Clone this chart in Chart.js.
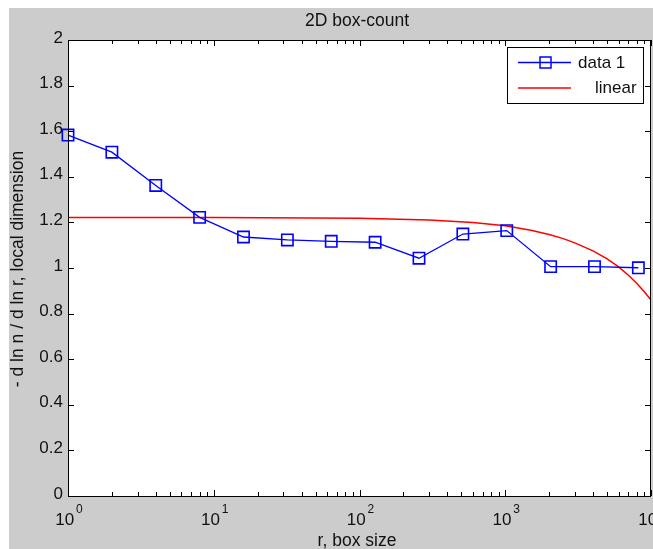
<!DOCTYPE html>
<html>
<head>
<meta charset="utf-8">
<title>2D box-count</title>
<script src="https://cdn.jsdelivr.net/npm/chart.js@4.4.0/dist/chart.umd.min.js"></script>
<style>
  body { margin: 0; background: #ffffff; }
  #wrap { width: 653px; height: 549px; }
</style>
</head>
<body>
<div id="wrap"><canvas id="myChart" width="653" height="549"></canvas></div>
<script>
  /////////////////////////////////////
 /*              DATA               */
/////////////////////////////////////

var boxSizes = [1, 2, 4, 8, 16, 32, 64, 128, 256, 512, 1024, 2048, 4096, 8192];
var localDim = [1.583, 1.508, 1.362, 1.222, 1.136, 1.123, 1.117, 1.113, 1.043, 1.149, 1.164, 1.006, 1.006, 1.001];

var fitX = [1, 10, 100, 300, 600, 1000, 1500, 2000, 2500, 3000, 4000, 5000, 6000, 7000, 8000, 9000, 10000];
var fitY = [1.222, 1.221, 1.218, 1.211, 1.200, 1.185, 1.166, 1.147, 1.129, 1.110, 1.075, 1.040, 1.005, 0.968, 0.932, 0.896, 0.860];

var yTicks = [0, 0.2, 0.4, 0.6, 0.8, 1, 1.2, 1.4, 1.6, 1.8, 2];
var yTickLabels = ['0', '0.2', '0.4', '0.6', '0.8', '1', '1.2', '1.4', '1.6', '1.8', '2'];
var xTicks = [1, 10, 100, 1000, 10000];
var xTickExps = ['0', '1', '2', '3', '4'];

var FONT = '"Liberation Sans", Arial, sans-serif';

  /////////////////////////////////////
 /*   MATLAB STYLE AXES + LEGEND    */
/////////////////////////////////////

var matlabAxes = {
  id: 'matlabAxes',
  beforeDraw: function(chart) {
    var ctx = chart.ctx;
    var a = chart.chartArea;
    ctx.save();
    ctx.fillStyle = '#ffffff';
    ctx.fillRect(0, 0, chart.width, chart.height);
    ctx.fillStyle = '#cccccc';
    ctx.fillRect(9, 8, chart.width - 9, chart.height - 8);
    ctx.fillStyle = '#ffffff';
    ctx.fillRect(a.left, a.top, a.right - a.left, a.bottom - a.top);
    ctx.restore();
  },
  afterDatasetsDraw: function(chart) {
    var ctx = chart.ctx;
    var a = chart.chartArea;
    var xs = chart.scales.x;
    var ys = chart.scales.y;
    var i, k, px, py;

    ctx.save();
    ctx.strokeStyle = '#000000';
    ctx.lineWidth = 1;

    // box
    ctx.strokeRect(Math.round(a.left) + 0.5, Math.round(a.top) + 0.5,
      Math.round(a.right - a.left) - 1, Math.round(a.bottom - a.top));

    // x ticks (major + minor), bottom and top
    ctx.beginPath();
    for (i = 0; i < xTicks.length; i++) {
      px = Math.round(xs.getPixelForValue(xTicks[i])) + 0.5;
      ctx.moveTo(px, a.bottom); ctx.lineTo(px, a.bottom - 6);
      ctx.moveTo(px, a.top); ctx.lineTo(px, a.top + 6);
      if (i < xTicks.length - 1) {
        for (k = 2; k <= 9; k++) {
          px = Math.round(xs.getPixelForValue(xTicks[i] * k)) + 0.5;
          ctx.moveTo(px, a.bottom); ctx.lineTo(px, a.bottom - 4);
          ctx.moveTo(px, a.top); ctx.lineTo(px, a.top + 4);
        }
      }
    }
    // y ticks, left and right
    for (i = 0; i < yTicks.length; i++) {
      py = Math.round(ys.getPixelForValue(yTicks[i])) + 0.5;
      ctx.moveTo(a.left, py); ctx.lineTo(a.left + 6, py);
      ctx.moveTo(a.right, py); ctx.lineTo(a.right - 6, py);
    }
    ctx.stroke();

    // y tick labels
    ctx.fillStyle = '#111111';
    ctx.font = '17px ' + FONT;
    ctx.textAlign = 'right';
    ctx.textBaseline = 'middle';
    for (i = 0; i < yTicks.length; i++) {
      py = ys.getPixelForValue(yTicks[i]);
      ctx.fillText(yTickLabels[i], a.left - 5, py - 2);
    }

    // x tick labels 10^n
    ctx.textAlign = 'left';
    ctx.textBaseline = 'alphabetic';
    for (i = 0; i < xTicks.length; i++) {
      px = xs.getPixelForValue(xTicks[i]);
      ctx.font = '17px ' + FONT;
      var wb = ctx.measureText('10').width;
      ctx.font = '12px ' + FONT;
      var we = ctx.measureText(xTickExps[i]).width;
      var x0 = px - (wb + 2 + we) / 2 + 1;
      ctx.font = '17px ' + FONT;
      ctx.fillText('10', x0, 525);
      ctx.font = '12px ' + FONT;
      ctx.fillText(xTickExps[i], x0 + wb + 2, 513);
    }

    // title and axis labels
    ctx.font = '17.5px ' + FONT;
    ctx.textAlign = 'center';
    ctx.fillText('2D box-count', 357, 26);
    ctx.fillText('r, box size', 357, 546);
    ctx.save();
    ctx.translate(23, 269);
    ctx.rotate(-Math.PI / 2);
    ctx.fillText('- d ln n / d ln r, local dimension', 0, 0);
    ctx.restore();

    // legend
    var d0 = chart.data.datasets[0];
    var d1 = chart.data.datasets[1];
    ctx.fillStyle = '#ffffff';
    ctx.fillRect(507, 47, 136, 56);
    ctx.strokeStyle = '#000000';
    ctx.lineWidth = 1;
    ctx.strokeRect(507.5, 47.5, 136, 56);

    ctx.strokeStyle = d0.borderColor;
    ctx.lineWidth = 1.5;
    ctx.beginPath();
    ctx.moveTo(518, 62.5); ctx.lineTo(571, 62.5);
    ctx.stroke();
    ctx.strokeRect(540, 57, 11, 11);

    ctx.strokeStyle = d1.borderColor;
    ctx.beginPath();
    ctx.moveTo(518, 88); ctx.lineTo(571, 88);
    ctx.stroke();

    ctx.fillStyle = '#111111';
    ctx.font = '17px ' + FONT;
    ctx.textAlign = 'left';
    ctx.textBaseline = 'middle';
    ctx.fillText(d0.label, 578, 63);
    ctx.fillText(d1.label, 595, 88);

    ctx.restore();
  }
};

  /////////////////////////////////////
 /*             CHART               */
/////////////////////////////////////

var ctx = document.getElementById('myChart').getContext('2d');
var chart = new Chart(ctx, {
  type: 'line',
  data: {
    datasets: [{
      label: 'data 1',
      data: boxSizes.map(function(v, i) { return { x: v, y: localDim[i] }; }),
      borderColor: '#0000ff',
      borderWidth: 1.3,
      pointStyle: 'rect',
      pointRadius: 8,
      pointBorderWidth: 1.6,
      pointBackgroundColor: 'rgba(0,0,0,0)',
      pointBorderColor: '#0000ff',
      fill: false,
      clip: false,
      order: 1
    }, {
      label: 'linear',
      data: fitX.map(function(v, i) { return { x: v, y: fitY[i] }; }),
      borderColor: '#ff0000',
      borderWidth: 1.5,
      pointRadius: 0,
      fill: false,
      order: 2
    }]
  },
  options: {
    responsive: false,
    animation: false,
    devicePixelRatio: 1,
    layout: { autoPadding: false, padding: { left: 68, top: 40, right: 2, bottom: 53 } },
    plugins: { legend: { display: false }, tooltip: { enabled: false } },
    scales: {
      x: { type: 'logarithmic', min: 1, max: 10000, display: false },
      y: { type: 'linear', min: 0, max: 2, display: false }
    }
  },
  plugins: [matlabAxes]
});
</script>
</body>
</html>
